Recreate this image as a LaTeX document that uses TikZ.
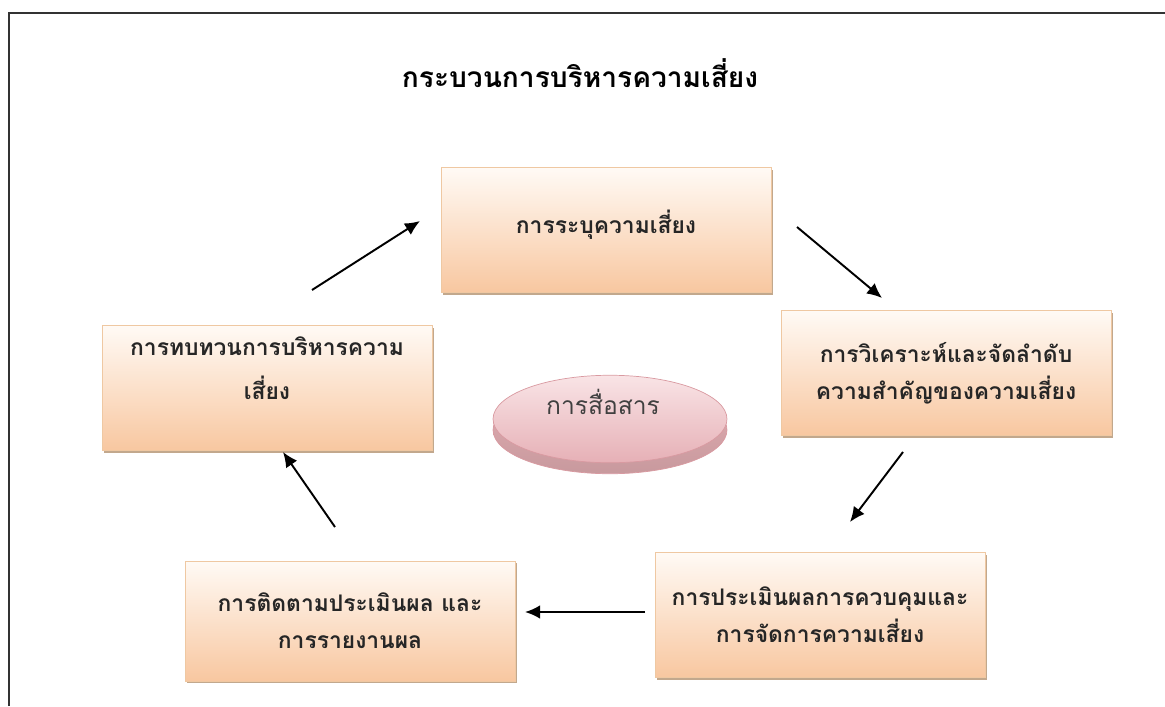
\documentclass[tikz,border=0pt]{standalone}
\usepackage{fontspec}
\newfontfamily\thaifont[Script=Thai]{Loma}
\usetikzlibrary{arrows.meta,shapes.geometric,shadows,positioning}

\definecolor{peachtop}{HTML}{FFFAF5}
\definecolor{peachbot}{HTML}{F8C7A0}
\definecolor{peachline}{HTML}{EFC8A2}
\definecolor{pinktop}{HTML}{F9E4E6}
\definecolor{pinkbot}{HTML}{E6B0B6}
\definecolor{pinkline}{HTML}{D99AA1}
\definecolor{pinkrim}{HTML}{E3AEB3}

\tikzset{
  stepbox/.style={draw=peachline, top color=peachtop, bottom color=peachbot,
    minimum width=6.6cm, minimum height=2.5cm, align=center,
    font=\thaifont\bfseries\fontsize{13}{21}\selectfont, text=black!85,
    drop shadow={shadow xshift=1.2pt, shadow yshift=-1.4pt,
      fill=brown!75!black, opacity=.55}},
  talkdisc/.style={ellipse, draw=pinkline, top color=pinktop, bottom color=pinkbot,
    minimum width=4.68cm, minimum height=1.75cm},
  flow/.style={-{Latex[length=0.3cm,width=0.27cm]}, line width=1.1pt},
}

\begin{document}
\begin{tikzpicture}[x=0.02cm,y=-0.02cm]
  \useasboundingbox (0,0) rectangle (1165,706);
  %frame
  \draw [line width=1.2pt, black!80] (9,706) -- (9,13) -- (1165,13);
  %title
  \node (title) at (580,73) {\thaifont\bfseries\fontsize{16}{20}\selectfont กระบวนการบริหารความเสี่ยง};

  %steps of the cycle
  \node [stepbox] (identify) at (606,230) {การระบุความเสี่ยง\\[-12pt]\mbox{}};
  \node [stepbox] (analyse) at (946,373) {การวิเคราะห์และจัดลำดับ\\ความสำคัญของความเสี่ยง};
  \node [stepbox] (control) at (820,615) {การประเมินผลการควบคุมและ\\การจัดการความเสี่ยง};
  \node [stepbox, minimum height=2.4cm] (monitor) at (350,621) {การติดตามประเมินผล และ\\การรายงานผล};
  \node [stepbox] (review) at (267,388) {การทบทวนการบริหารความ\\[4.5pt]เสี่ยง\\[1.7pt]\mbox{}};

  %communication disc
  \node [talkdisc, top color=pinkrim, bottom color=pinkrim!88!black, draw=pinkline] (discbase) at (610,430) {};
  \node [talkdisc] (talk) at (610,419) {};
  \node [text=black!75, font=\thaifont\fontsize{14}{18}\selectfont] (talklabel) at (603,402) {การสื่อสาร};

  %arrows
  \coordinate (a1s) at (312,290);  \coordinate (a1e) at (420,221);
  \coordinate (a2s) at (797,227);  \coordinate (a2e) at (882,298);
  \coordinate (a3s) at (903,452);  \coordinate (a3e) at (850,522);
  \coordinate (a4s) at (645,612);  \coordinate (a4e) at (525,612);
  \coordinate (a5s) at (335,527);  \coordinate (a5e) at (283,452);
  \draw [flow] (a1s) -- (a1e);
  \draw [flow] (a2s) -- (a2e);
  \draw [flow] (a3s) -- (a3e);
  \draw [flow] (a4s) -- (a4e);
  \draw [flow] (a5s) -- (a5e);
\end{tikzpicture}
\end{document}
